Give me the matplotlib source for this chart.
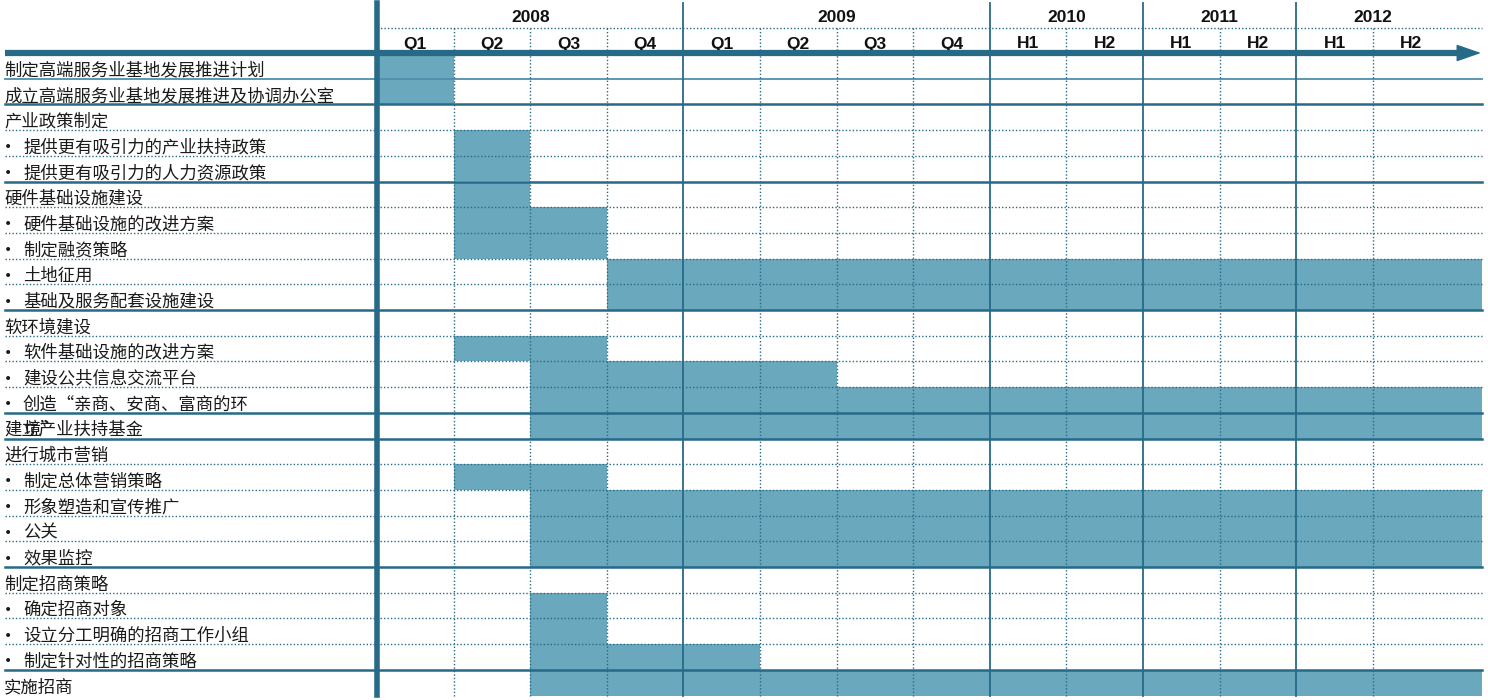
import matplotlib
matplotlib.use("Agg")
import matplotlib.pyplot as plt

plt.rcParams['font.family'] = ['Noto Sans CJK SC', 'DejaVu Sans']

# timeline header
years = ["2008", "2009", "2010", "2011", "2012"]
year_spans = [4, 4, 2, 2, 2]
periods = ["Q1", "Q2", "Q3", "Q4", "Q1", "Q2", "Q3", "Q4", "H1", "H2", "H1", "H2", "H1", "H2"]

# tasks (a "\n" means the label wraps into the next row in the original)
tasks = [
    "制定高端服务业基地发展推进计划",
    "成立高端服务业基地发展推进及协调办公室",
    "产业政策制定",
    "提供更有吸引力的产业扶持政策",
    "提供更有吸引力的人力资源政策",
    "硬件基础设施建设",
    "硬件基础设施的改进方案",
    "制定融资策略",
    "土地征用",
    "基础及服务配套设施建设",
    "软环境建设",
    "软件基础设施的改进方案",
    "建设公共信息交流平台",
    "创造“亲商、安商、富商的环\n境”",
    "建立产业扶持基金",
    "进行城市营销",
    "制定总体营销策略",
    "形象塑造和宣传推广",
    "公关",
    "效果监控",
    "制定招商策略",
    "确定招商对象",
    "设立分工明确的招商工作小组",
    "制定针对性的招商策略",
    "实施招商",
]
bullet = [0, 0, 0, 1, 1, 0, 1, 1, 1, 1, 0, 1, 1, 1, 0, 0, 1, 1, 1, 1, 0, 1, 1, 1, 0]
# start / end period index, None = no bar / runs to the right edge
starts = [0, 0, None, 1, 1, 1, 1, 1, 3, 3, None, 1, 2, 2, 2, None, 1, 2, 2, 2, None, 2, 2, 2, 2]
ends = [1, 1, None, 2, 2, 2, 3, 3, None, None, None, 3, 6, None, None, None, 3, None, None, None, None, 3, 3, 5, None]
# 1 = solid group separator under the row
solid_below = [1, 1, 0, 0, 1, 0, 0, 0, 0, 1, 0, 0, 0, 1, 1, 0, 0, 0, 0, 1, 0, 0, 0, 1, 0]

LINE = "#276a87"
BAR = "#6aa8be"
TXT = "#1a1a1a"

COL_W = 76.6   # px per period
ROW_H = 25.7   # px per row
X0 = 377       # px of timeline start
Y0 = 53        # px of first row top


def px_x(p):
    return (p - X0) / COL_W


def px_y(p):
    return (p - Y0) / ROW_H


fig = plt.figure(figsize=(14.88, 7), dpi=100)
ax = fig.add_axes([0, 0, 1, 1])
ax.set_xlim(px_x(0), px_x(1488))
ax.set_ylim(px_y(700), px_y(0))
ax.axis("off")

n = len(tasks)
right = px_x(1482)
left = px_x(5)

# bars
for i in range(n):
    if starts[i] is None:
        continue
    e = ends[i] if ends[i] is not None else right
    ax.barh(i + 0.5, e - starts[i], left=starts[i], height=1.0, color=BAR,
            linewidth=0, zorder=1)

# horizontal row separators
for i in range(n - 1):
    y = i + 1
    if solid_below[i]:
        c = "#4f8fac" if i == 0 else LINE
        ax.plot([left, right], [y, y], color=c, lw=1.8 if i else 1.3, zorder=3)
    else:
        ax.plot([left, right], [y, y], color=LINE, lw=1.0, ls=(0, (1, 1.5)), zorder=3)

# vertical grid
top = px_y(3)
mid = px_y(28)
bottom = n
year_starts = [sum(year_spans[:k]) for k in range(len(years))]
for k in range(len(periods)):
    if k in year_starts:
        if k == 0:
            continue
        ax.plot([k, k], [top, bottom], color=LINE, lw=1.3, zorder=3)
    else:
        ax.plot([k, k], [mid, bottom], color=LINE, lw=1.0, ls=(0, (1, 1.5)), zorder=3)
ax.plot([0, 0], [top, px_y(695)], color=LINE, lw=4, zorder=4)
ax.plot([0, right], [mid, mid], color=LINE, lw=1.0, ls=(0, (1, 1.5)), zorder=3)

# header labels
for k, yr in enumerate(years):
    cx = year_starts[k] + year_spans[k] / 2
    ax.text(cx, px_y(17), yr, ha="center", va="center", fontsize=12.5,
            fontweight="bold", family="Liberation Sans", color="#111111")
for k, p in enumerate(periods):
    ax.text(k + 0.5, px_y(44), p, ha="center", va="center", fontsize=12.5,
            fontweight="bold", family="Liberation Sans", color="#111111")

# main time arrow
ax.plot([left, px_x(1462)], [0, 0], color=LINE, lw=4.5, solid_capstyle="butt", zorder=5)
ax.annotate("", xy=(px_x(1481), 0), xytext=(px_x(1458), 0),
            arrowprops=dict(arrowstyle="-|>,head_length=1.3,head_width=0.45",
                            lw=1, color=LINE, mutation_scale=12,
                            shrinkA=0, shrinkB=0), zorder=5)

# task labels
for i, label in enumerate(tasks):
    y = i + 0.5 + 0.17
    if bullet[i]:
        ax.text(px_x(4), y, "•", ha="left", va="center", fontsize=10,
                family="DejaVu Sans", color=TXT)
        x = px_x(23)
    else:
        x = px_x(4)
    for j, line in enumerate(label.split("\n")):
        ax.text(x, y + j, line, ha="left", va="center", fontsize=12.5, color=TXT)

fig.savefig("out.png", dpi=100)
